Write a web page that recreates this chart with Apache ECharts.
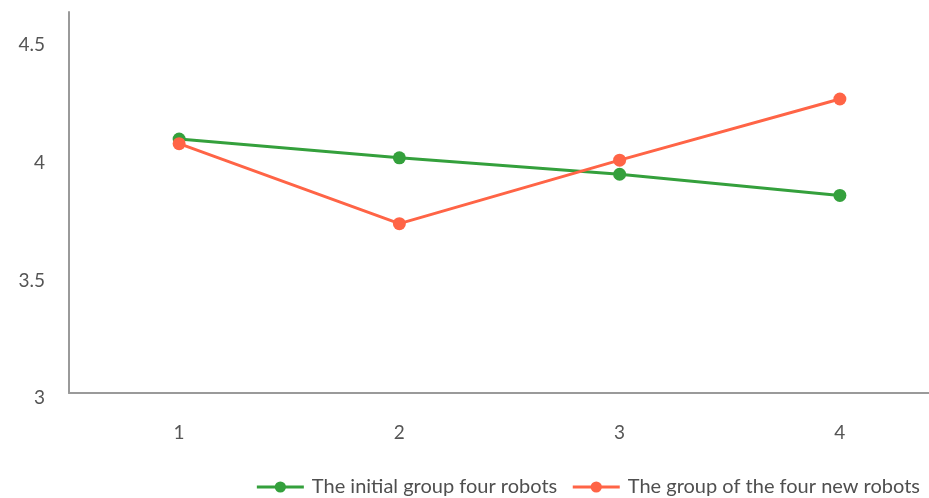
<!DOCTYPE html>
<html>
<head>
<meta charset="utf-8">
<script src="https://cdn.jsdelivr.net/npm/echarts@6/dist/echarts.min.js"></script>
<style>html,body{margin:0;padding:0;background:#fff;overflow:hidden;width:929px;height:498px}#c{width:950px;height:498px}</style>
</head>
<body>
<div id="c"></div>
<script>
const categories = ['1', '2', '3', '4'];
const seriesNames = ['The initial group four robots', 'The group of the four new robots'];
const initialGroup = [4.08, 4.00, 3.93, 3.84];
const newGroup = [4.06, 3.72, 3.99, 4.25];
const yTicks = [3, 3.5, 4, 4.5];

const chart = echarts.init(document.getElementById('c'), null, {renderer: 'canvas'});
const font = 'Lato, "Open Sans", sans-serif';
chart.setOption({
  animation: false,
  textStyle: {fontFamily: font},
  grid: {left: 69, right: 0, top: 12, bottom: 105, containLabel: false},
  xAxis: {
    type: 'category',
    data: categories,
    boundaryGap: true,
    axisLine: {lineStyle: {color: '#9a9a9a', width: 2}},
    axisTick: {show: false},
    axisLabel: {color: '#555', fontSize: 19, margin: 30, fontFamily: font},
    splitLine: {show: false}
  },
  yAxis: {
    type: 'value',
    min: yTicks[0],
    max: 4.62,
    interval: 0.5,
    axisLine: {show: true, lineStyle: {color: '#9a9a9a', width: 2}},
    axisTick: {show: false},
    splitLine: {show: false},
    axisLabel: {
      color: '#555', fontSize: 19, margin: 24, fontFamily: font,
      showMaxLabel: false,
      formatter: v => (yTicks.indexOf(Math.round(v * 10) / 10) >= 0 ? '{a|' + v + '}' : ''),
      rich: {a: {color: '#555', fontSize: 19, fontFamily: font, padding: [10, 0, 0, 0]}}
    }
  },
  legend: {
    right: 25,
    top: 472,
    itemWidth: 47,
    itemHeight: 14,
    itemGap: 14,
    textStyle: {color: '#4f4f4f', fontSize: 20, fontFamily: font, padding: [0, 0, 0, 3]},
    lineStyle: {width: 3},
    data: seriesNames
  },
  series: [
    {
      name: seriesNames[0], type: 'line', data: initialGroup,
      symbol: 'circle', symbolSize: 13,
      itemStyle: {color: '#34a03c'},
      lineStyle: {color: '#34a03c', width: 3}
    },
    {
      name: seriesNames[1], type: 'line', data: newGroup,
      symbol: 'circle', symbolSize: 13,
      itemStyle: {color: '#ff6446'},
      lineStyle: {color: '#ff6446', width: 3}
    }
  ]
});
</script>
</body>
</html>
